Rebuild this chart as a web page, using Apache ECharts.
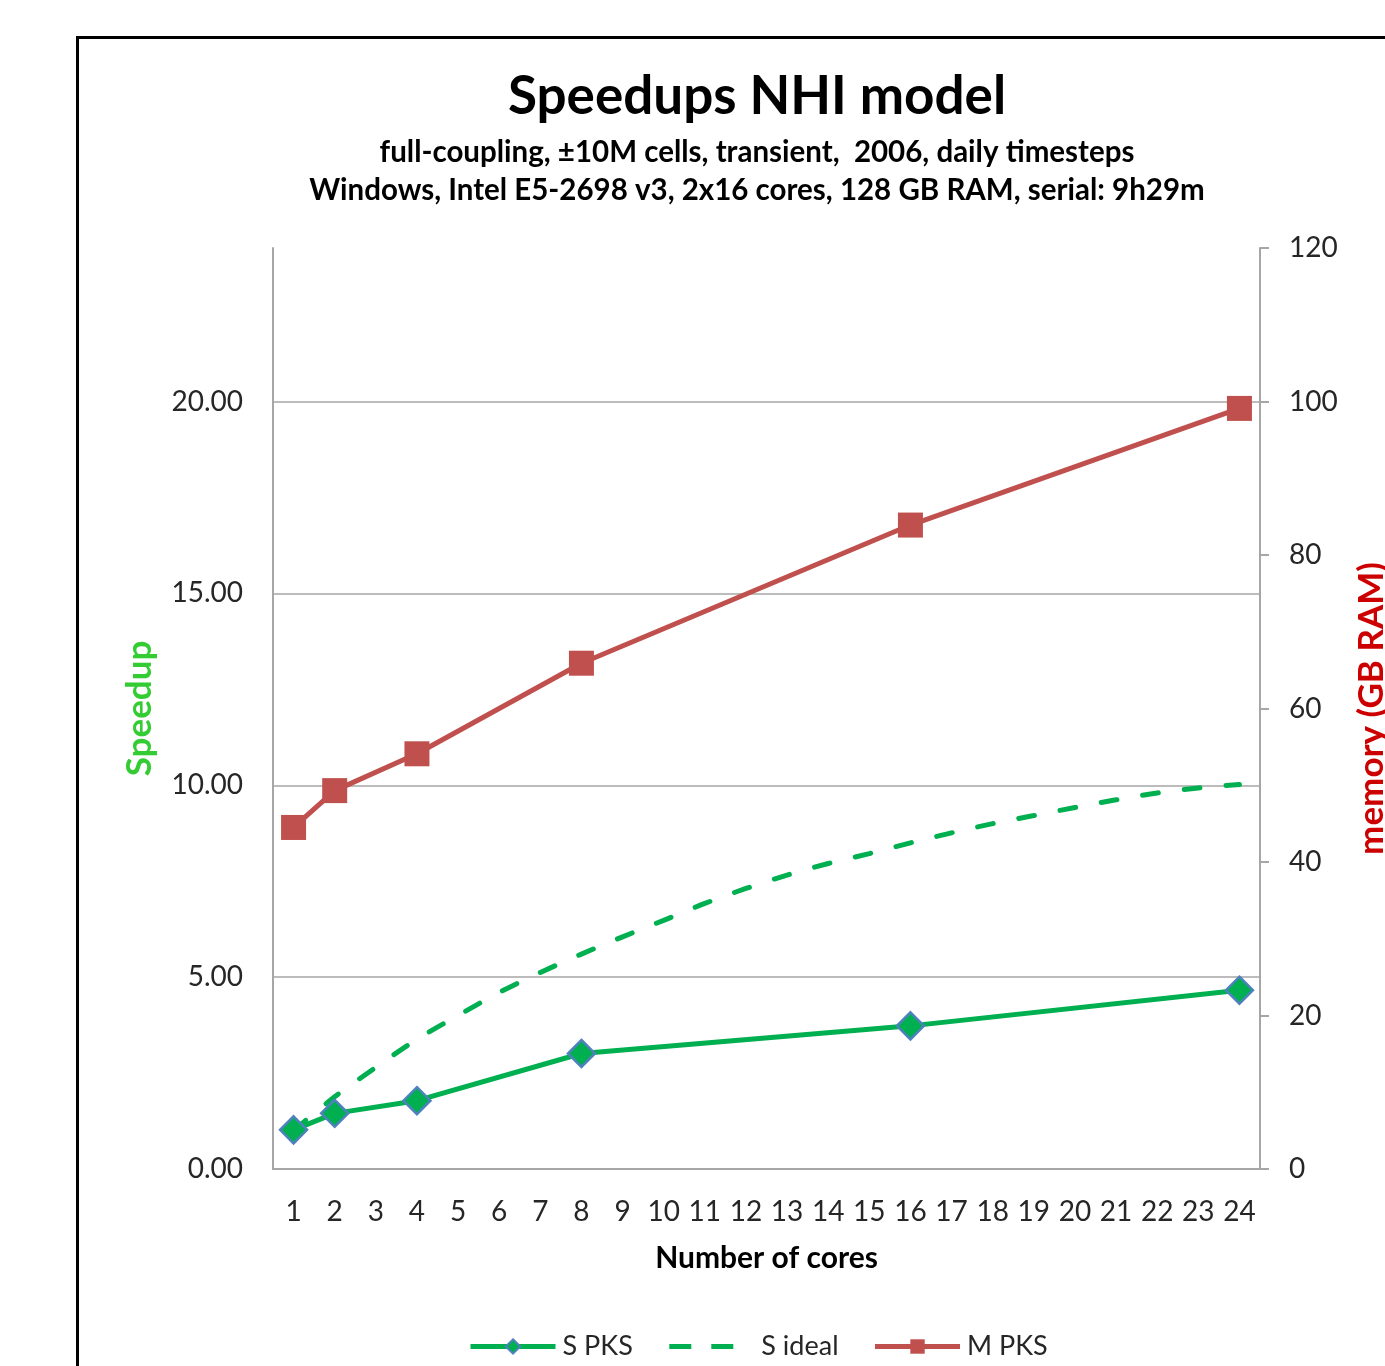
<!DOCTYPE html>
<html>
<head>
<meta charset="utf-8">
<title>Speedups NHI model</title>
<script src="https://cdn.jsdelivr.net/npm/echarts@6/dist/echarts.min.js"></script>
<style>
  html, body { margin: 0; padding: 0; background: #ffffff; }
  #chart { width: 1385px; height: 1366px; }
</style>
</head>
<body>
<div id="chart"></div>
<script>
// Number of cores on the category axis
const cores = ['1','2','3','4','5','6','7','8','9','10','11','12','13','14','15','16','17','18','19','20','21','22','23','24'];

// Measured speedup (PKS), only for the core counts that were run
const speedupPKS = [1.02, 1.45, null, 1.78, null, null, null, 3.01, null, null, null, null, null, null, null, 3.73, null, null, null, null, null, null, null, 4.66];

// Ideal speedup curve
const speedupIdeal = [1.0, 1.88, 2.65, 3.38, 4.0, 4.6, 5.12, 5.6, 6.05, 6.48, 6.92, 7.31, 7.66, 7.96, 8.22, 8.5, 8.76, 9.0, 9.21, 9.42, 9.62, 9.8, 9.93, 10.02];

// Memory use of the PKS runs (GB RAM)
const memoryPKS = [44.5, 49.3, null, 54.1, null, null, null, 65.9, null, null, null, null, null, null, null, 83.9, null, null, null, null, null, null, null, 99.1];

const titleText = 'Speedups NHI model';
const subtitleLines = [
  'full-coupling, \u00b110M cells, transient,  2006, daily timesteps',
  'Windows, Intel E5-2698 v3, 2x16 cores, 128 GB RAM, serial: 9h29m'
];

const FONT = 'Lato, "Open Sans", sans-serif';
const GREEN = '#00B050';
const RED = '#C0504D';
const AXIS_GRAY = '#A6A6A6';
const TEXT = '#262626';

const chart = echarts.init(document.getElementById('chart'));

chart.setOption({
  backgroundColor: '#ffffff',
  animation: false,
  textStyle: { fontFamily: FONT },
  graphic: [{
    type: 'rect',
    left: 75, top: 35,
    shape: { width: 1400, height: 1400 },
    style: { fill: 'none', stroke: '#000000', lineWidth: 3 },
    silent: true
  }],
  title: {
    text: titleText,
    subtext: subtitleLines.join('\n'),
    left: 752,
    top: 65,
    textAlign: 'center',
    itemGap: 10,
    textStyle: { fontFamily: FONT, fontSize: 53, fontWeight: 'bold', color: '#000000' },
    subtextStyle: { fontFamily: FONT, fontSize: 29.5, fontWeight: 'bold', color: '#000000', lineHeight: 38, align: 'center' }
  },
  legend: {
    left: 468,
    top: 1333,
    padding: 0,
    itemWidth: 85,
    itemHeight: 18,
    itemGap: 34,
    textStyle: { fontFamily: FONT, fontSize: 27, color: TEXT, padding: [0, 0, 0, 2] },
    data: [
      { name: 'S PKS', lineStyle: { width: 5 } },
      { name: 'S ideal', itemStyle: { opacity: 0 }, lineStyle: { width: 5, type: [22, 20, 22, 40], cap: 'butt' } },
      { name: 'M PKS', lineStyle: { width: 5 } }
    ]
  },
  grid: { left: 273, top: 248, width: 987, height: 921, containLabel: false, outerBoundsMode: 'none' },
  xAxis: {
    type: 'category',
    data: cores,
    boundaryGap: true,
    axisLine: { show: true, lineStyle: { color: AXIS_GRAY, width: 2 } },
    axisTick: { show: false },
    axisLabel: { fontFamily: FONT, fontSize: 28, color: TEXT, margin: 29, interval: 0 },
    name: 'Number of cores',
    nameLocation: 'middle',
    nameGap: 74,
    nameTextStyle: { fontFamily: FONT, fontSize: 30, fontWeight: 'bold', color: '#000000' }
  },
  yAxis: [{
    type: 'value',
    min: 0, max: 24, interval: 5,
    position: 'left',
    axisLine: { show: true, lineStyle: { color: AXIS_GRAY, width: 2 } },
    axisTick: { show: false },
    axisLabel: {
      fontFamily: FONT, fontSize: 28, color: TEXT, margin: 30,
      showMaxLabel: false,
      formatter: v => v.toFixed(2)
    },
    splitLine: { show: true, showMinLine: false, showMaxLine: false, lineStyle: { color: AXIS_GRAY, width: 1.5 } },
    name: 'Speedup',
    nameLocation: 'middle',
    nameRotate: 90,
    nameGap: 116,
    nameTextStyle: { fontFamily: FONT, fontSize: 35, fontWeight: 'bold', color: '#33CC33' }
  }, {
    type: 'value',
    min: 0, max: 120, interval: 20,
    position: 'right',
    axisLine: { show: true, lineStyle: { color: AXIS_GRAY, width: 2 } },
    axisTick: { show: true, inside: false, length: 9, lineStyle: { color: AXIS_GRAY, width: 2 } },
    axisLabel: { fontFamily: FONT, fontSize: 28, color: TEXT, margin: 29 },
    splitLine: { show: false },
    name: 'memory (GB RAM)',
    nameLocation: 'middle',
    nameRotate: 90,
    nameGap: 94,
    nameTextStyle: { fontFamily: FONT, fontSize: 35, fontWeight: 'bold', color: '#CC0000' }
  }],
  series: [{
    name: 'S PKS',
    type: 'line',
    yAxisIndex: 0,
    data: speedupPKS,
    connectNulls: true,
    symbol: 'diamond',
    symbolSize: 27,
    lineStyle: { color: GREEN, width: 5 },
    itemStyle: { color: GREEN, borderColor: '#4F81BD', borderWidth: 2.5 },
    z: 4
  }, {
    name: 'S ideal',
    type: 'line',
    yAxisIndex: 0,
    data: speedupIdeal,
    smooth: 0.3,
    symbol: 'none',
    showSymbol: false,
    lineStyle: { color: GREEN, width: 5, type: [16, 26], cap: 'round' },
    itemStyle: { color: GREEN },
    z: 3
  }, {
    name: 'M PKS',
    type: 'line',
    yAxisIndex: 1,
    data: memoryPKS,
    connectNulls: true,
    symbol: 'rect',
    symbolSize: 25,
    lineStyle: { color: RED, width: 5 },
    itemStyle: { color: RED, borderWidth: 0 },
    z: 4
  }]
});
</script>
</body>
</html>
